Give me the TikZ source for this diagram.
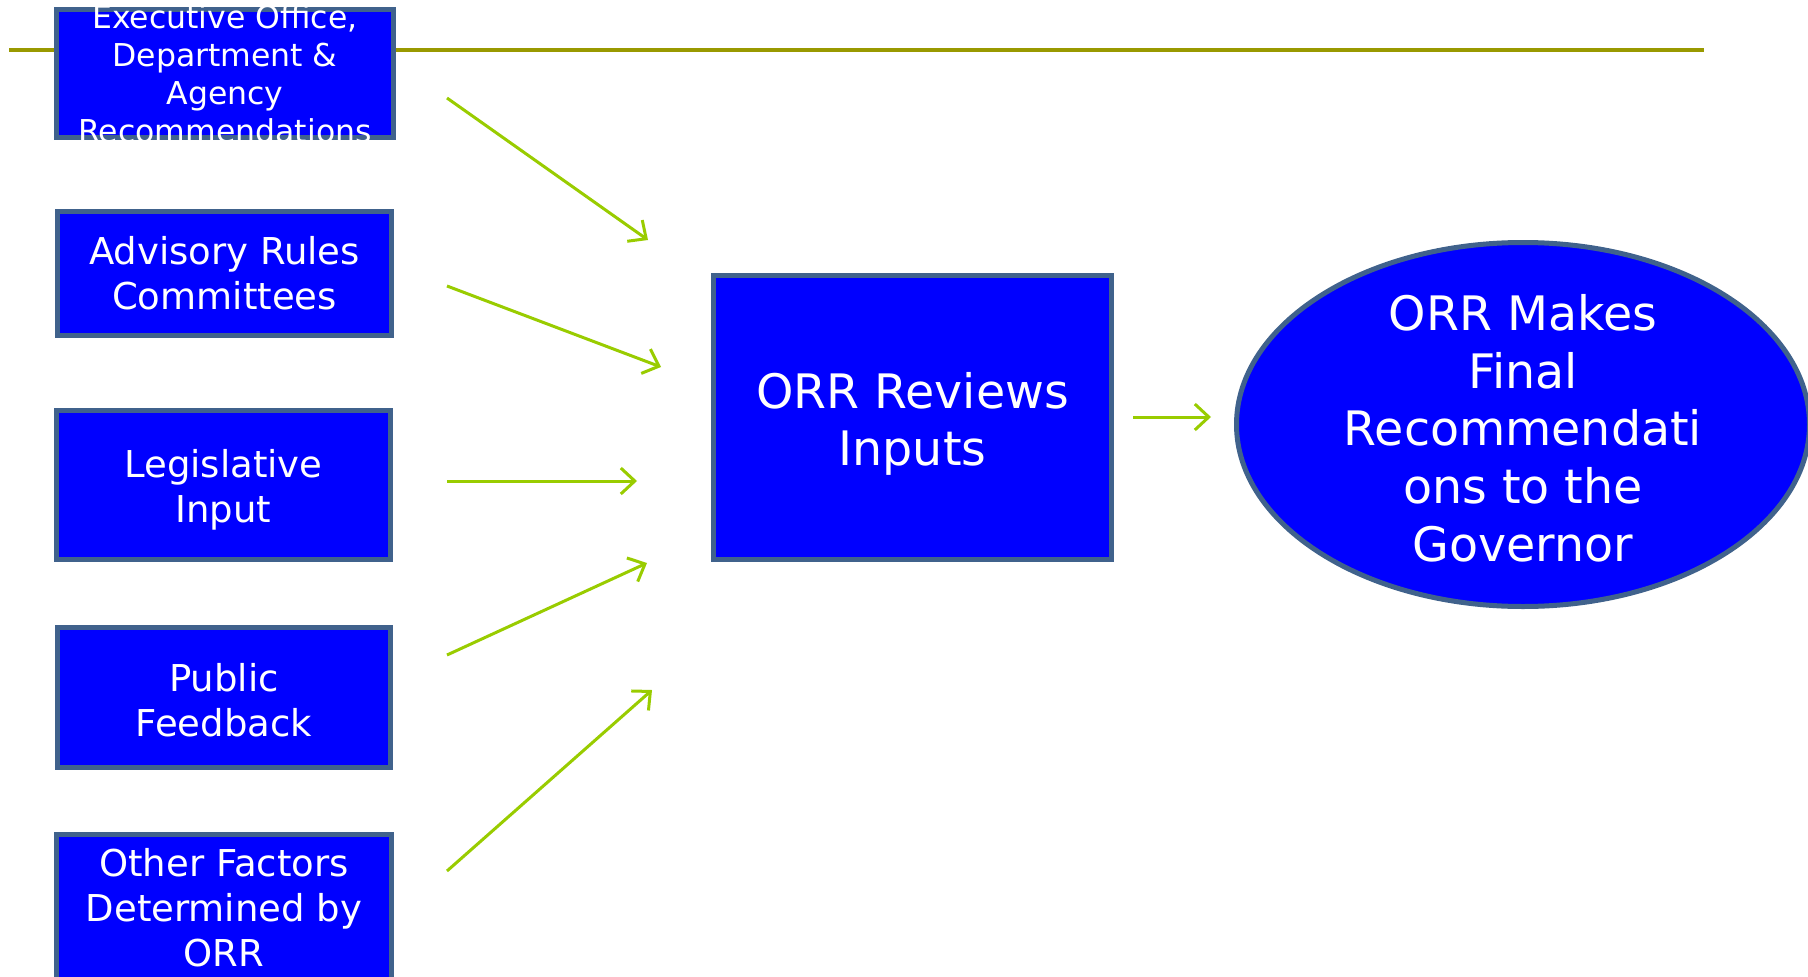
\documentclass[tikz,border=0pt]{standalone}
\usepackage{fontspec}
\setmainfont{DejaVu Sans}
\usetikzlibrary{arrows.meta,shapes.geometric}
\definecolor{boxfill}{RGB}{0,0,255}
\definecolor{boxline}{RGB}{64,98,140}
\definecolor{rulecol}{RGB}{153,153,0}
\definecolor{arrowcol}{RGB}{153,204,0}
\tikzset{
  inbox/.style={draw=boxline, fill=boxfill, line width=5pt, text=white, align=center,
    inner sep=0pt, font=\fontsize{37}{45}\selectfont},
  boxtext/.style={text=white, align=center, inner sep=0pt},
  flow/.style={draw=arrowcol, line width=3pt, -{Straight Barb[length=14pt,width=26pt,line width=3pt]}},
}
\begin{document}
\begin{tikzpicture}[x=1pt,y=-1pt]
\useasboundingbox (0,0) rectangle (1808,977);
\draw[rulecol, line width=4pt] (9,50) coordinate (rl) -- (1704,50) coordinate (rr);
\node[inbox, minimum width=337pt, minimum height=128pt] (b1) at (225,73.5) {};
\begin{scope}
\clip (54,0) rectangle (396,140);
\node[boxtext, font=\fontsize{31.5}{38}\selectfont] (b1t) at (225,74)
  {Executive Office,\\Department \&\\Agency\\Recommendations};
\end{scope}
\node[inbox, minimum width=334pt, minimum height=124pt] (b2) at (224.5,273.5) {Advisory Rules\\Committees};
\node[inbox, minimum width=334pt, minimum height=149pt] (b3) at (223.5,485) {};
\node[boxtext, font=\fontsize{37}{45}\selectfont] (b3t) at (223.5,490) {Legislative\\Input};
\node[inbox, minimum width=333pt, minimum height=140pt] (b4) at (224,697.5) {};
\node[boxtext, font=\fontsize{37}{45}\selectfont] (b4t) at (224,700) {Public\\Feedback};
\node[inbox, minimum width=335pt, minimum height=146pt] (b5) at (224,907.5) {Other Factors\\Determined by\\ORR};
\node[inbox, minimum width=398pt, minimum height=284pt] (mid) at (912.5,417.5) {};
\node[boxtext, font=\fontsize{47.5}{57.7}\selectfont] (midt) at (912.5,424) {ORR Reviews\\Inputs};
\node[inbox, ellipse, minimum width=573pt, minimum height=364pt] (ell) at (1523,424.5) {};
\node[boxtext, font=\fontsize{47.5}{57.7}\selectfont] (ellt) at (1523,428)
  {ORR Makes\\Final\\Recommendati\\ons to the\\Governor};
\coordinate (s1) at (447,98);  \coordinate (e1) at (648,240);
\coordinate (s2) at (447,286); \coordinate (e2) at (661,367);
\coordinate (s3) at (447,481); \coordinate (e3) at (637,481);
\coordinate (s4) at (447,655); \coordinate (e4) at (647,563);
\coordinate (s5) at (447,871); \coordinate (e5) at (652,690);
\coordinate (s6) at (1133,417); \coordinate (e6) at (1211,417);
\draw[flow] (s1) -- (e1);
\draw[flow] (s2) -- (e2);
\draw[flow] (s3) -- (e3);
\draw[flow] (s4) -- (e4);
\draw[flow] (s5) -- (e5);
\draw[flow] (s6) -- (e6);
\end{tikzpicture}
\end{document}
